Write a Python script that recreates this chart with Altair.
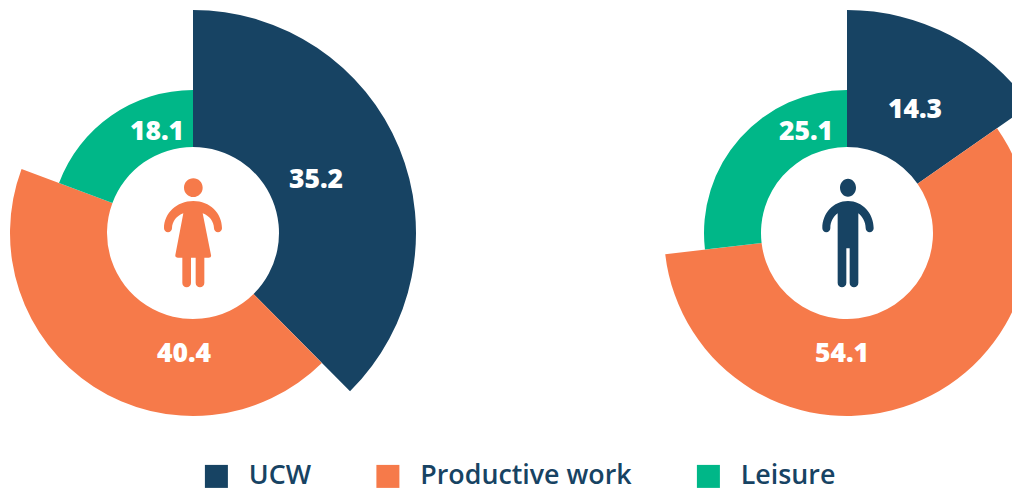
import altair as alt
import pandas as pd

series = ["UCW", "Productive work", "Leisure"]
women = [35.2, 40.4, 18.1]
men = [14.3, 54.1, 25.1]
colors = ["#174363", "#f67a4a", "#00b788"]
outer_radii = [223, 183, 143]
inner_radius = 86
font = "Open Sans"

WOMAN = ("M102,68 a28,28 0 1,0 56,0 a28,28 0 1,0 -56,0 Z "
         "M130,108 C80,108 42,145 42,190 A12,12 0 0 0 66,190 C66,170 80,152 100,145 "
         "L76,270 Q75,278 84,278 L176,278 Q185,278 183,270 L158,145 "
         "C178,152 192,170 192,190 A12,12 0 0 0 216,190 C216,145 180,108 130,108 Z "
         "M97,278 L97,354 A13,13 0 0 0 123,354 L123,278 Z "
         "M137,278 L137,354 A13,13 0 0 0 163,354 L163,278 Z")
MAN = ("M105,68 a24,27 0 1,0 48,0 a24,27 0 1,0 -48,0 Z "
       "M129,108 C85,108 52,145 52,190 A12,12 0 0 0 76,190 C76,170 85,155 98,145 "
       "L98,354 A13,13 0 0 0 124,354 L124,250 L134,250 L134,354 A13,13 0 0 0 160,354 "
       "L160,145 C172,155 182,170 182,190 A12,12 0 0 0 206,190 C206,145 172,108 129,108 Z")


def donut(values, cx, legend=None):
    df = pd.DataFrame({"series": series, "value": values})
    total = df["value"].sum()
    df["end"] = df["value"].cumsum() / total
    df["start"] = df["end"] - df["value"] / total
    parts = []
    for name, radius in zip(series, outer_radii):
        parts.append(
            alt.Chart(df[df["series"] == name]).mark_arc(
                strokeWidth=0, radius=radius, radius2=inner_radius
            ).encode(
                x=alt.value(cx),
                y=alt.value(225),
                theta=alt.Theta("start:Q", stack=None, scale=alt.Scale(domain=[0, 1], range=[0, 6.283185307])),
                theta2=alt.Theta2("end:Q"),
                color=alt.Color("series:N", scale=alt.Scale(domain=series, range=colors), legend=legend),
            )
        )
    return parts


def label(text, x, y):
    return alt.Chart(pd.DataFrame({"t": [text]})).mark_text(
        font=font, fontSize=26.5, fontWeight=800, color="white", baseline="middle", align="center"
    ).encode(text="t:N", x=alt.value(x), y=alt.value(y))


def icon(path, color, x, y):
    return alt.Chart(pd.DataFrame({"k": [1]})).mark_point(
        shape=path, size=4 / 9, filled=True, fill=color, opacity=1, strokeWidth=0
    ).encode(x=alt.value(x), y=alt.value(y))


legend = alt.Legend(
    title=None, orient="none", legendX=195, legendY=455, direction="horizontal", columns=3,
    gridAlign="none", columnPadding=62.5, symbolType="square", symbolSize=529, symbolStrokeWidth=0,
    symbolOpacity=1, labelFont=font, labelFontSize=26.8, labelFontWeight=600, labelColor="#174363",
    labelOffset=19, labelLimit=400, padding=0,
)

layers = [
    *donut(women, 185, legend),
    *donut(men, 839),
    label("35.2", 308, 171.5),
    label("18.1", 149, 123.5),
    label("40.4", 176, 345.5),
    label("14.3", 907, 101.5),
    label("25.1", 798, 123.5),
    label("54.1", 834, 345.5),
    icon(WOMAN, "#f67a4a", 142, 157),
    icon(MAN, "#174363", 797, 157),
]

chart = alt.layer(*layers).properties(
    width=1004, height=483, padding=0, autosize=alt.AutoSizeParams(type="none")
).configure_view(stroke=None)

chart.save("out.html", embed_options={"renderer": "svg", "actions": False})
